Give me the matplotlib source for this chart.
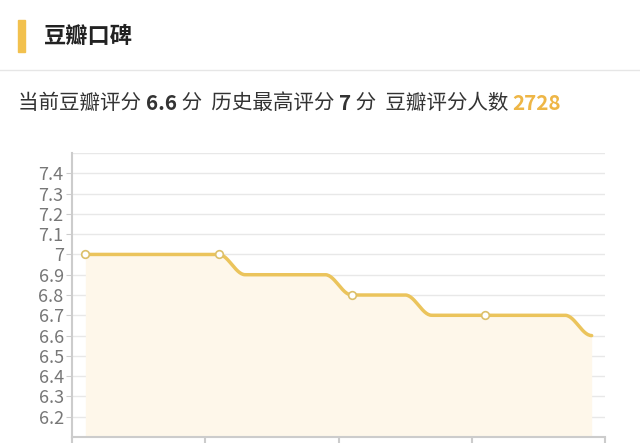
import matplotlib
matplotlib.use("Agg")
import matplotlib.pyplot as plt
import numpy as np

plt.rcParams['font.family'] = ['Noto Sans CJK SC', 'DejaVu Sans']

scores = [7.0,7.0,7.0,7.0,7.0,7.0,6.9,6.9,6.9,6.9,6.8,6.8,6.8,6.7,6.7,6.7,6.7,6.7,6.7,6.6]
marker_idx = [0,5,10,15]
yticks = [6.2,6.3,6.4,6.5,6.6,6.7,6.8,6.9,7.0,7.1,7.2,7.3,7.4]
ylabels = ['6.2','6.3','6.4','6.5','6.6','6.7','6.8','6.9','7','7.1','7.2','7.3','7.4']

W, H = 640, 443
fig = plt.figure(figsize=(W/100, H/100), dpi=100)
fig.patch.set_facecolor('white')

def fx(px): return px/W
def fy(py): return 1-py/H

# header
fig.patches.append(plt.Rectangle((fx(18), fy(52)), 7/W, 32/H, transform=fig.transFigure, color='#f2c14e'))
fig.text(fx(44), fy(36), '豆瓣口碑', fontsize=16, fontweight='bold', color='#222222', va='center')
fig.add_artist(plt.Line2D([0,1],[fy(70),fy(70)], transform=fig.transFigure, color='#e6e6e6', lw=1))

# info line
parts = [('当前豆瓣评分 ', 'normal', '#333333'), ('6.6', 'bold', '#333333'), (' 分  历史最高评分 ', 'normal', '#333333'),
         ('7', 'bold', '#333333'), (' 分  豆瓣评分人数 ', 'normal', '#333333'), ('2728', 'bold', '#eeb646')]
fig.canvas.draw()
r = fig.canvas.get_renderer()
x = fx(18)
for s, w, c in parts:
    t = fig.text(x, fy(103), s, fontsize=14.8, fontweight=w, color=c, va='center')
    bb = t.get_window_extent(r)
    x += bb.width/W

ax = fig.add_axes([fx(72), fy(437), (605-72)/W, (437-153)/H])
n = len(scores)
xs = np.arange(n)
xx, yy = [], []
for i in range(n-1):
    t = np.linspace(0, 1, 30)
    e = (1-np.cos(np.pi*t))/2
    xx.extend(xs[i]+t); yy.extend(scores[i]+(scores[i+1]-scores[i])*e)
ax.fill_between(xx, yy, 6.1, color='#fef7ea', lw=0)
ax.plot(xx, yy, color='#ebc45c', lw=2.5, solid_capstyle='round')
ax.plot([xs[i] for i in marker_idx], [scores[i] for i in marker_idx], 'o', ms=5.5,
        mfc='white', mec='#dcc06a', mew=1.2)
ax.set_xlim(-0.5, n-0.5)
ax.set_ylim(6.1, 7.5)
ax.set_yticks(yticks)
ax.set_yticklabels(ylabels, fontsize=13, color='#777777')
ax.set_xticks([-0.5, 4.5, 9.5, 14.5, 19.5])
ax.set_xticklabels([])
ax.grid(axis='y', color='#e8e8e8', lw=1)
ax.axhline(7.5, color='#e8e8e8', lw=1)
for s in ['top', 'right']:
    ax.spines[s].set_visible(False)
for s in ['left', 'bottom']:
    ax.spines[s].set_color('#cccccc'); ax.spines[s].set_linewidth(1.5)
ax.tick_params(axis='y', length=4, color='#cccccc', pad=2)
ax.tick_params(axis='x', length=6, color='#cccccc', width=1.5)
ax.set_axisbelow(True)

fig.savefig('out.png', dpi=100, facecolor='white')
